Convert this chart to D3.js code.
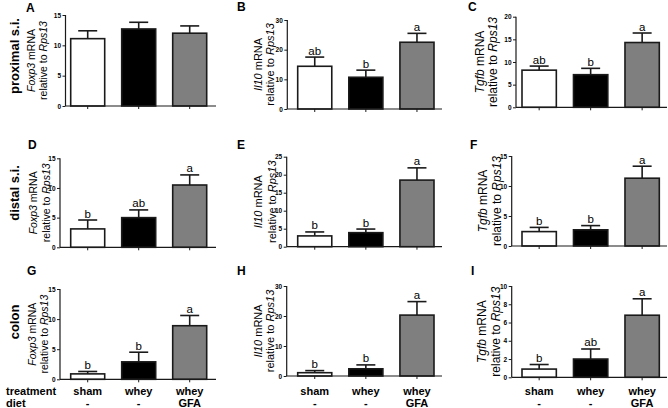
<!DOCTYPE html>
<html><head><meta charset="utf-8">
<script src="https://cdn.jsdelivr.net/npm/d3@7"></script>
<style>body{margin:0;background:#fff}svg{display:block}text{font-family:"Liberation Sans",Arial,sans-serif;fill:#000}</style>
</head><body><svg id="c" width="668" height="408"></svg>
<script>
const categories = ["sham", "whey", "whey GFA"];
const treatment = ["sham", "whey", "whey"];
const diet = ["-", "-", "GFA"];
const rowLabels = ["proximal s.i.", "distal s.i.", "colon"];
const genes = ["Foxp3", "Il10", "Tgfb"];
const panelIds = ["A","B","C","D","E","F","G","H","I"];
// means and upper error (mean + SEM)
const meanA = [11.1, 12.7, 12.0], errA = [12.4, 13.8, 13.2], letA = ["", "", ""];
const meanB = [14.4, 10.7, 22.5], errB = [17.5, 13.1, 25.5], letB = ["ab", "b", "a"];
const meanC = [8.2, 7.2, 14.3], errC = [9.1, 8.6, 16.4], letC = ["ab", "b", "a"];
const meanD = [3.1, 5.0, 10.5], errD = [4.6, 6.3, 12.2], letD = ["b", "ab", "a"];
const meanE = [3.0, 3.9, 18.5], errE = [4.1, 4.9, 21.9], letE = ["b", "b", "a"];
const meanF = [2.4, 2.7, 11.3], errF = [3.1, 3.4, 13.3], letF = ["b", "b", "a"];
const meanG = [0.9, 2.9, 8.9], errG = [1.3, 4.5, 10.6], letG = ["b", "b", "a"];
const meanH = [1.1, 2.4, 20.3], errH = [1.8, 3.7, 24.8], letH = ["b", "b", "a"];
const meanI = [0.9, 2.0, 6.8], errI = [1.4, 3.1, 8.6], letI = ["b", "ab", "a"];
const yMax = [15, 30, 20, 15, 25, 15, 15, 30, 10];
const yStep = [5, 10, 5, 5, 5, 5, 5, 10, 2];

const means = [meanA, meanB, meanC, meanD, meanE, meanF, meanG, meanH, meanI];
const errs = [errA, errB, errC, errD, errE, errF, errG, errH, errI];
const lets = [letA, letB, letC, letD, letE, letF, letG, letH, letI];
const fills = ["#ffffff", "#000000", "#7f7f7f"];

const svg = d3.select("#c");
// layout geometry
const colBars = [[70.7, 206.7], [297.7, 434], [522, 659.3]];
const colAxisEnd = [216, 442, 667];
const axisX = [65.5, 287.3, 516, 60, 286.7, 511.7, 60, 286.7, 511.7];
const yRanges = [[106, 15], [109, 20], [107.3, 16.7], [247.3, 158.3], [246.7, 156.7], [246, 156], [379.3, 289], [376, 286], [377.3, 286]];
const titleX = [[31, 42.5], [257.5, 270], [479.5, 493], [33, 46], [258, 271.5], [483, 496.5], [32, 44], [257.5, 270], [482, 495.5]];
const titleSize = [10.5, 11, 12, 10.5, 11, 12, 10.5, 11, 12];
const letterPos = [[26, 12], [237, 11], [468, 11], [28, 149], [237, 149], [470, 149], [27, 275], [237, 275], [471, 275]];
const rowCenterY = [56, 193, 322];

rowLabels.forEach((t, i) => {
  svg.append("text").attr("transform", `translate(19,${rowCenterY[i]}) rotate(-90)`)
    .attr("text-anchor", "middle").attr("font-size", 13).attr("font-weight", "bold").attr("fill", "#000").text(t);
});

for (let p = 0; p < 9; p++) {
  const col = p % 3, row = Math.floor(p / 3);
  const x = d3.scaleBand().domain(categories).range(colBars[col]).paddingInner(1/3).paddingOuter(0);
  const y = d3.scaleLinear().domain([0, yMax[p]]).range(yRanges[p]);
  const g = svg.append("g");
  const data = categories.map((c, i) => ({c, m: means[p][i], e: errs[p][i], l: lets[p][i], f: fills[i]}));
  const bw = x.bandwidth();
  data.forEach(d => {
    const cx = x(d.c) + bw / 2;
    g.append("line").attr("x1", cx).attr("x2", cx).attr("y1", y(d.m)).attr("y2", y(d.e)).attr("stroke", "#1a1a1a").attr("stroke-width", 1.6);
    g.append("line").attr("x1", cx - 9.5).attr("x2", cx + 9.5).attr("y1", y(d.e)).attr("y2", y(d.e)).attr("stroke", "#1a1a1a").attr("stroke-width", 1.6);
    if (d.l) g.append("text").attr("x", cx).attr("y", y(d.e) - 2.5).attr("text-anchor", "middle").attr("font-size", 11.5).attr("fill", "#000").text(d.l);
  });
  g.selectAll("rect.bar").data(data).join("rect").attr("class", "bar")
    .attr("x", d => x(d.c)).attr("width", bw)
    .attr("y", d => y(d.m)).attr("height", d => y(0) - y(d.m))
    .attr("fill", d => d.f).attr("stroke", "#1a1a1a").attr("stroke-width", 1.6);
  const ticks = d3.range(0, yMax[p] + 1e-9, yStep[p]);
  const ya = d3.axisLeft(y).tickValues(ticks).tickSize(3).tickPadding(1.5).tickFormat(d3.format("d"));
  const yg = g.append("g").attr("transform", `translate(${axisX[p]},0)`).call(ya);
  yg.select(".domain").attr("stroke", "#1a1a1a").attr("stroke-width", 1.2).attr("d", `M0,${y(yMax[p])}V${y(0)}`);
  yg.selectAll(".tick line").attr("stroke", "#1a1a1a").attr("stroke-width", 1);
  yg.selectAll(".tick text").attr("font-size", 6.5).attr("font-weight", "bold").attr("fill", "#111").attr("font-family", "Liberation Sans, Arial, sans-serif");
  const xa = d3.axisBottom(x).tickSize(3).tickFormat("");
  const xg = g.append("g").attr("transform", `translate(0,${y(0)})`).call(xa);
  xg.select(".domain").attr("stroke", "#1a1a1a").attr("stroke-width", 1.2).attr("d", `M${axisX[p]},0H${colAxisEnd[col]}`);
  xg.selectAll(".tick line").attr("stroke", "#1a1a1a").attr("stroke-width", 1);
  const cy = (yRanges[p][0] + yRanges[p][1]) / 2;
  const t1 = svg.append("text").attr("transform", `translate(${titleX[p][0] + 4},${cy}) rotate(-90)`)
    .attr("text-anchor", "middle").attr("font-size", titleSize[p]).attr("fill", "#000");
  t1.append("tspan").attr("font-style", "italic").text(genes[col]);
  t1.append("tspan").text(" mRNA");
  const t2 = svg.append("text").attr("transform", `translate(${titleX[p][1] + 4},${cy}) rotate(-90)`)
    .attr("text-anchor", "middle").attr("font-size", titleSize[p]).attr("fill", "#000");
  t2.append("tspan").text("relative to ");
  t2.append("tspan").attr("font-style", "italic").text("Rps13");
  svg.append("text").attr("x", letterPos[p][0]).attr("y", letterPos[p][1]).attr("font-size", 12).attr("font-weight", "bold").attr("fill", "#000").text(panelIds[p]);
  if (row === 2) {
    categories.forEach((c, i) => {
      const cx = x(c) + bw / 2;
      svg.append("text").attr("x", cx).attr("y", 395).attr("text-anchor", "middle").attr("font-size", 11).attr("font-weight", "bold").attr("fill", "#000").text(treatment[i]);
      svg.append("text").attr("x", cx).attr("y", 407).attr("text-anchor", "middle").attr("font-size", 11).attr("font-weight", "bold").attr("fill", "#000").text(diet[i]);
    });
  }
}
svg.append("text").attr("x", 6).attr("y", 395).attr("font-size", 11).attr("font-weight", "bold").attr("fill", "#000").text("treatment");
svg.append("text").attr("x", 6).attr("y", 407).attr("font-size", 11).attr("font-weight", "bold").attr("fill", "#000").text("diet");
</script></body></html>
